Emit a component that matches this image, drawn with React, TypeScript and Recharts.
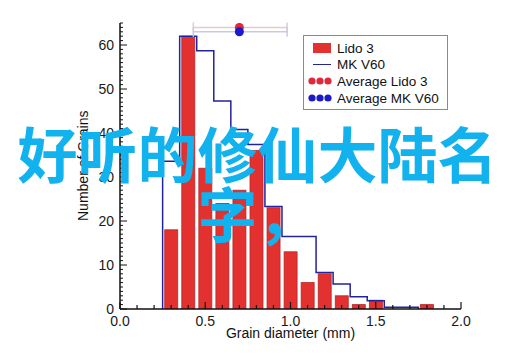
import { Bar, ComposedChart, ErrorBar, Line, Scatter, XAxis, YAxis } from "recharts"

// histogram bins (mm), 0.1 mm wide
const binCentres = [0.3, 0.4, 0.5, 0.6, 0.7, 0.8, 0.9, 1.0, 1.1, 1.2, 1.3, 1.4, 1.5, 1.6, 1.7, 1.8]
const lido3 = [18, 62, 32, 24, 27, 36, 23, 13, 6, 8, 3, 1, 2, 0, 0, 1]
// MK V60 outline, bins 0.3 .. 1.7
const mkV60 = [33.6, 62, 58.7, 47.3, 40.8, 37.4, 23.3, 16.5, 16.5, 8.3, 5.7, 2.8, 1.9, 0.4, 0.4]

// averages with spread
const avgNames = ["Average Lido 3", "Average MK V60"]
const avgX = [0.7, 0.7]
const avgY = [64, 63]
const avgLow = [0.43, 0.43]
const avgHigh = [0.98, 0.98]

const xMajor = [0, 0.5, 1, 1.5, 2]
const yMajor = [0, 10, 20, 30, 40, 50, 60]
const xTicks = Array.from({ length: 21 }, (_, i) => +(i * 0.1).toFixed(1))
const yTicks = Array.from({ length: 66 }, (_, i) => i)

const captionLines = ["好听的修仙大陆名", "字，"]

const RED = "#e2312f"
const NAVY = "#23239c"
const FONT = '"Liberation Sans", Arial, sans-serif'
const BAR_W = 13

const barData = binCentres.map((x, i) => ({ x, lido: lido3[i] }))

const stepData = [
  { x: binCentres[0] - 0.05, mk: 0 },
  ...mkV60.map((v, i) => ({ x: +(binCentres[i] - 0.05).toFixed(2), mk: v })),
  { x: +(binCentres[mkV60.length - 1] + 0.05).toFixed(2), mk: mkV60[mkV60.length - 1] },
  { x: +(binCentres[mkV60.length - 1] + 0.05).toFixed(2), mk: 0 },
]

const avgData = avgNames.map((name, i) => ({
  name,
  x: avgX[i],
  y: avgY[i],
  err: [avgX[i] - avgLow[i], avgHigh[i] - avgX[i]],
}))

const isXMajor = (v: number) => xMajor.some((m) => Math.abs(m - v) < 1e-6)
const isYMajor = (v: number) => yMajor.includes(v)

// keep the bar centred on its bin but at a fixed width
function BinBar({ x, y, width, height }: any) {
  if (!height || height <= 0) return null
  const cx = x + width / 2
  return (
    <rect
      x={cx - BAR_W / 2}
      y={y}
      width={BAR_W}
      height={height}
      fill={RED}
      stroke="#b9272c"
      strokeWidth={0.8}
    />
  )
}

function BottomTick({ x, y, payload }: any) {
  const major = isXMajor(payload.value)
  return (
    <g>
      <line x1={x} x2={x} y1={y} y2={y - (major ? 7 : 4)} stroke="#111" strokeWidth={1.2} />
      {major && (
        <text x={x} y={y + 17} textAnchor="middle" fontSize={14} fontFamily={FONT} fill="#1a1a1a">
          {payload.value.toFixed(1)}
        </text>
      )}
    </g>
  )
}

function TopTick({ x, y, payload }: any) {
  const major = isXMajor(payload.value)
  return <line x1={x} x2={x} y1={y} y2={y + (major ? 7 : 4)} stroke="#111" strokeWidth={1.2} />
}

function LeftTick({ x, y, payload }: any) {
  const major = isYMajor(payload.value)
  return (
    <g>
      <line x1={x} x2={x + (major ? 7 : 3)} y1={y} y2={y} stroke="#111" strokeWidth={1} />
      {major && (
        <text x={x - 6} y={y + 5} textAnchor="end" fontSize={14} fontFamily={FONT} fill="#1a1a1a">
          {payload.value}
        </text>
      )}
    </g>
  )
}

function RightTick({ x, y, payload }: any) {
  const major = isYMajor(payload.value)
  return <line x1={x} x2={x - (major ? 7 : 3)} y1={y} y2={y} stroke="#111" strokeWidth={1} />
}

function Dots({ color }: { color: string }) {
  return (
    <svg width={26} height={10} style={{ display: "block" }}>
      {[5, 13, 21].map((cx) => (
        <circle key={cx} cx={cx} cy={5} r={3.6} fill={color} />
      ))}
    </svg>
  )
}

export default function App() {
  const axisLine = { stroke: "#111", strokeWidth: 1.5 }
  return (
    <div style={{ position: "absolute", left: 0, top: 0, width: 515, height: 359, background: "#fff" }}>
      <ComposedChart width={515} height={359} data={barData} margin={{ top: 23, right: 54, bottom: 20, left: 80 }}>
        <XAxis
          dataKey="x"
          type="number"
          domain={[0, 2]}
          ticks={xTicks}
          interval={0}
          allowDataOverflow
          height={30}
          tickSize={0}
          tickMargin={0}
          tickLine={false}
          axisLine={axisLine}
          tick={<BottomTick />}
        />
        <XAxis
          xAxisId="top"
          orientation="top"
          type="number"
          dataKey="x"
          domain={[0, 2]}
          ticks={xTicks}
          interval={0}
          allowDataOverflow
          height={0}
          tickSize={0}
          tickMargin={0}
          tickLine={false}
          axisLine={axisLine}
          tick={<TopTick />}
        />
        <YAxis
          type="number"
          domain={[0, 65]}
          ticks={yTicks}
          interval={0}
          allowDataOverflow
          width={40}
          tickSize={0}
          tickMargin={0}
          tickLine={false}
          axisLine={axisLine}
          tick={<LeftTick />}
        />
        <YAxis
          yAxisId="right"
          orientation="right"
          type="number"
          domain={[0, 65]}
          ticks={yTicks}
          interval={0}
          allowDataOverflow
          width={0}
          tickSize={0}
          tickMargin={0}
          tickLine={false}
          axisLine={axisLine}
          tick={<RightTick />}
        />
        <Bar dataKey="lido" fill={RED} shape={<BinBar />} isAnimationActive={false} />
        <Line
          data={stepData}
          dataKey="mk"
          type="stepAfter"
          stroke={NAVY}
          strokeWidth={1.5}
          dot={false}
          activeDot={false}
          isAnimationActive={false}
        />
        <Scatter data={[avgData[0]]} dataKey="y" fill="#e0283c" isAnimationActive={false}>
          <ErrorBar dataKey="err" direction="x" stroke="#e4c9d2" strokeWidth={1.5} width={5} />
        </Scatter>
        <Scatter data={[avgData[1]]} dataKey="y" fill="#1a1acb" isAnimationActive={false}>
          <ErrorBar dataKey="err" direction="x" stroke="#c9cbe6" strokeWidth={1.5} width={5} />
        </Scatter>
      </ComposedChart>

      {/* legend */}
      <div
        style={{
          position: "absolute",
          left: 303,
          top: 35,
          width: 143,
          height: 73,
          border: "1px solid #8a8a8a",
          background: "#fff",
          fontFamily: FONT,
          fontSize: 13.5,
          color: "#111",
          boxSizing: "content-box",
        }}
      >
        {[
          <div style={{ width: 18, height: 10, background: RED, marginLeft: 9, marginRight: 6 }} />,
          <div style={{ width: 18, height: 1.5, background: NAVY, marginLeft: 9, marginRight: 6 }} />,
          <div style={{ marginLeft: 3, marginRight: 4 }}><Dots color="#e0283c" /></div>,
          <div style={{ marginLeft: 3, marginRight: 4 }}><Dots color="#1a1acb" /></div>,
        ].map((icon, i) => (
          <div
            key={i}
            style={{ position: "absolute", left: 0, top: 4 + i * 16.7, height: 16, display: "flex", alignItems: "center" }}
          >
            {icon}
            <span style={{ whiteSpace: "nowrap" }}>{["Lido 3", "MK V60", ...avgNames][i]}</span>
          </div>
        ))}
      </div>

      {/* axis titles */}
      <div
        style={{
          position: "absolute",
          left: 190,
          width: 201,
          top: 325,
          textAlign: "center",
          fontFamily: FONT,
          fontSize: 14,
          lineHeight: "16px",
          color: "#111",
        }}
      >
        Grain diameter (mm)
      </div>
      <div
        style={{
          position: "absolute",
          left: 75,
          top: 96,
          height: 140,
          width: 16,
          textAlign: "center",
          fontFamily: FONT,
          fontSize: 14,
          lineHeight: "16px",
          color: "#111",
          writingMode: "vertical-rl",
          transform: "rotate(180deg)",
          whiteSpace: "nowrap",
        }}
      >
        Number of Grains
      </div>

      {/* overlay caption */}
      <div
        style={{
          position: "absolute",
          left: 0,
          top: 122,
          width: 515,
          display: "flex",
          flexDirection: "column",
          alignItems: "center",
          fontFamily: '"Noto Sans CJK SC", sans-serif',
          fontWeight: 700,
          fontSize: 60,
          lineHeight: "60px",
          color: "#12b2ee",
          pointerEvents: "none",
        }}
      >
        {captionLines.map((line) => (
          <span key={line} style={{ whiteSpace: "nowrap" }}>
            {line}
          </span>
        ))}
      </div>
    </div>
  )
}
